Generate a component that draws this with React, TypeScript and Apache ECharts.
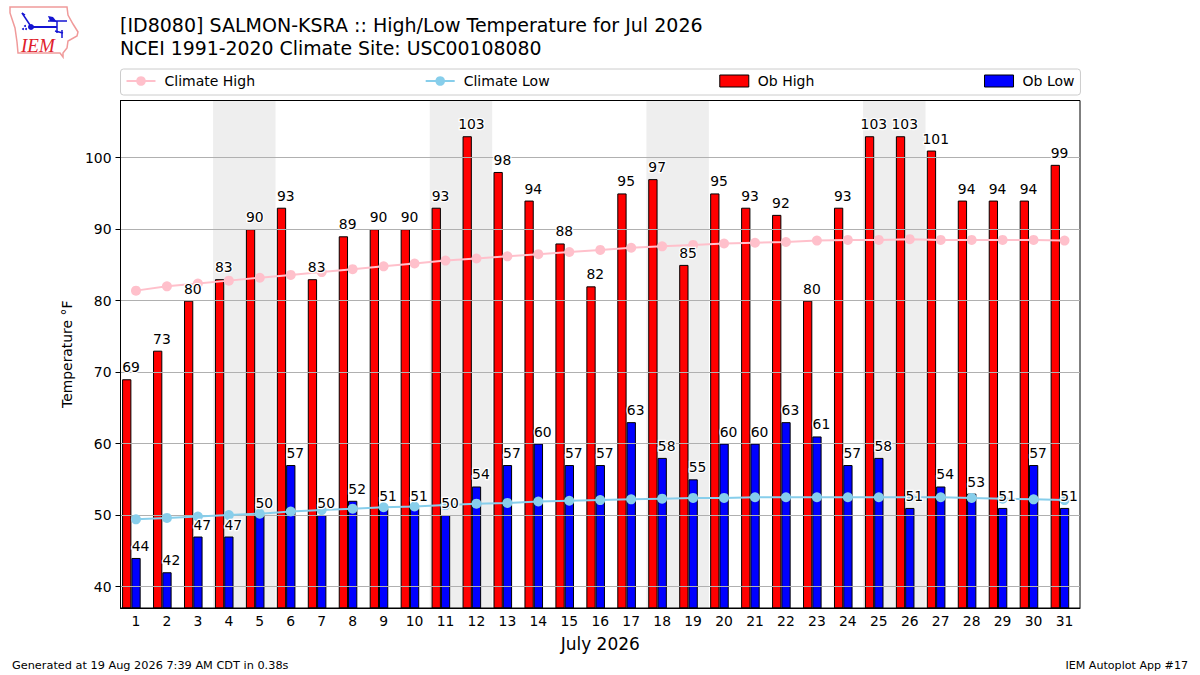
import React, { useEffect, useRef } from 'react';
import * as echarts from 'echarts';

const days = ['1','2','3','4','5','6','7','8','9','10','11','12','13','14','15','16','17','18','19','20','21','22','23','24','25','26','27','28','29','30','31'];
const obHigh = [69,73,80,83,90,93,83,89,90,90,93,103,98,94,88,82,95,97,85,95,93,92,80,93,103,103,101,94,94,94,99];
const obLow = [44,42,47,47,50,57,50,52,51,51,50,54,57,60,57,57,63,58,55,60,60,63,61,57,58,51,54,53,51,57,51];
const climateHigh = [81.4,82.0,82.4,82.8,83.2,83.6,84.0,84.4,84.8,85.2,85.6,85.9,86.2,86.5,86.8,87.1,87.4,87.6,87.8,88.0,88.1,88.2,88.4,88.5,88.5,88.6,88.5,88.5,88.5,88.5,88.4];
const climateLow = [49.4,49.6,49.8,50.0,50.2,50.5,50.7,50.9,51.1,51.2,51.4,51.6,51.7,51.9,52.0,52.1,52.2,52.3,52.4,52.4,52.5,52.5,52.5,52.5,52.5,52.5,52.5,52.4,52.3,52.2,52.1];
const weekendDays = ['4','5','11','12','18','19','25','26'];
const yTicks = [40,50,60,70,80,90,100];

const FONT = 'DejaVu Sans';
const Y_MIN = 37;
const Y_MAX = 108;
const LOGO_BLUE = '#1414d2';

// outline of the logo, page pixels
const logoOutline = [[10,7],[67,7],[68,15],[73,24],[78,32],[77,36],[68,41],[67,48],[63,53],[63,57],[60,53],[18,53],[17,42],[15,28],[10,13]];

const labelSeries = (name: string, values: number[], dx: number) => ({
  name,
  type: 'scatter' as const,
  symbolSize: 0,
  z: 6,
  silent: true,
  data: values,
  itemStyle: { opacity: 1 }, // scatter defaults to 0.8, which greys the labels
  label: {
    show: true,
    position: 'top' as const,
    distance: 5,
    offset: [dx, 0],
    fontFamily: FONT,
    fontSize: 13.9,
    color: '#000',
    opacity: 1,
    textBorderColor: '#fff',
    textBorderWidth: 2.5,
  },
});

const lineSeries = (name: string, values: number[], color: string) => ({
  name,
  type: 'line' as const,
  data: values,
  symbol: 'circle',
  symbolSize: 10,
  z: 4,
  lineStyle: { color, width: 2 },
  itemStyle: { color },
});

const logoLine = (x1: number, y1: number, x2: number, y2: number, lineWidth = 1.5) => ({
  type: 'line',
  shape: { x1, y1, x2, y2 },
  style: { stroke: LOGO_BLUE, lineWidth },
});

const logoDot = (cx: number, cy: number, r = 1) => ({
  type: 'circle',
  shape: { cx, cy, r },
  style: { fill: LOGO_BLUE },
});

const App: React.FC = () => {
  const chartRef = useRef<HTMLDivElement>(null);

  useEffect(() => {
    if (!chartRef.current) return;
    const chart = echarts.init(chartRef.current, undefined, { renderer: 'svg' });

    const option: any = {
      animation: false,
      backgroundColor: '#fff',
      textStyle: { fontFamily: FONT },
      title: [
        {
          text: '[ID8080] SALMON-KSRA :: High/Low Temperature for Jul 2026',
          left: 120,
          top: 13,
          padding: 0,
          textStyle: { fontFamily: FONT, fontSize: 19.03, fontWeight: 'normal', color: '#000', lineHeight: 23.5 },
        },
        {
          text: 'NCEI 1991-2020 Climate Site: USC00108080',
          left: 120,
          top: 36.5,
          padding: 0,
          textStyle: { fontFamily: FONT, fontSize: 18.87, fontWeight: 'normal', color: '#000', lineHeight: 23.5 },
        },
      ],
      legend: {
        left: 120.5,
        top: 69,
        padding: [5, 6, 7, 5],
        itemGap: 169.7,
        itemWidth: 29,
        itemHeight: 12,
        borderColor: '#ccc',
        borderWidth: 1,
        borderRadius: 3,
        backgroundColor: '#fff',
        data: [
          { name: 'Climate High' },
          { name: 'Climate Low' },
          { name: 'Ob High', icon: 'rect', itemStyle: { borderWidth: 1 } },
          { name: 'Ob Low', icon: 'rect', itemStyle: { borderWidth: 1 } },
        ],
        textStyle: { fontFamily: FONT, fontSize: 14, color: '#000', padding: [0, 0, 0, 4] },
      },
      grid: { left: 120.5, right: 120, top: 100.5, bottom: 67, show: true, borderColor: '#000', borderWidth: 1, z: 3, backgroundColor: 'transparent' },
      xAxis: [
        {
          type: 'category',
          data: days,
          name: 'July 2026',
          nameLocation: 'middle',
          nameGap: 27,
          nameTextStyle: { fontFamily: FONT, fontSize: 17, color: '#000' },
          axisLine: { lineStyle: { color: '#000', width: 1 } },
          axisTick: { alignWithLabel: true, length: 5, lineStyle: { color: '#000' } },
          axisLabel: { fontFamily: FONT, fontSize: 13.9, color: '#000', margin: 6, interval: 0 },
          splitLine: { show: false },
        },
        { type: 'category', data: days, show: false },
      ],
      yAxis: {
        type: 'value',
        min: Y_MIN,
        max: Y_MAX,
        z: 3,
        name: 'Temperature °F',
        nameLocation: 'middle',
        nameGap: 42,
        nameTextStyle: { fontFamily: FONT, fontSize: 13.9, color: '#000' },
        axisLine: { show: true, lineStyle: { color: '#000', width: 1 } },
        axisTick: { show: true, length: 5, lineStyle: { color: '#000' }, customValues: yTicks },
        axisLabel: { fontFamily: FONT, fontSize: 13.9, color: '#000', margin: 9, customValues: yTicks },
        splitLine: { show: true, lineStyle: { color: '#b0b0b0', width: 1.1 } },
      },
      series: [
        {
          name: 'Weekend',
          type: 'bar',
          xAxisIndex: 1,
          z: 0,
          silent: true,
          barWidth: 31.5,
          itemStyle: { color: '#eeeeee' },
          data: days.map((d) => (weekendDays.includes(d) ? Y_MAX : null)),
        },
        lineSeries('Climate High', climateHigh, '#ffc0cb'),
        lineSeries('Climate Low', climateLow, '#87ceeb'),
        {
          name: 'Ob High',
          type: 'bar',
          z: 2,
          barWidth: 9.29,
          barGap: 0,
          data: obHigh,
          itemStyle: { color: '#ff0000', borderColor: '#000', borderWidth: 1 },
        },
        {
          name: 'Ob Low',
          type: 'bar',
          z: 2,
          barWidth: 9.29,
          barGap: 0,
          data: obLow,
          itemStyle: { color: '#0000ff', borderColor: '#000', borderWidth: 1 },
        },
        // empty slot so the red/blue pair sits left of the tick like the original
        { name: 'spacer', type: 'bar', barWidth: 9.2, barGap: 0, data: [] },
        labelSeries('High labels', obHigh, -5),
        labelSeries('Low labels', obLow, 4.5),
      ],
      graphic: [
        {
          type: 'polygon',
          shape: { points: logoOutline },
          style: { fill: '#fff', stroke: '#f09a9a', lineWidth: 1.5 },
        },
        logoLine(31, 27, 57, 27, 2),
        logoDot(31, 27, 3),
        logoLine(22, 13, 30, 25),
        logoLine(22, 13, 25, 15),
        logoLine(48, 21, 67, 21),
        {
          type: 'polygon',
          shape: { points: [[48,16],[53,17],[57,22],[50,21]] },
          style: { fill: LOGO_BLUE },
        },
        logoLine(57, 21, 57, 33),
        logoLine(55, 31, 63, 33),
        logoLine(62, 30, 62, 38),
        logoDot(25, 26),
        logoDot(23, 29),
        logoDot(26, 29),
        {
          type: 'text',
          x: 21,
          y: 36,
          style: { text: 'IEM', fill: '#e0202a', fontFamily: 'Liberation Serif', fontStyle: 'italic', fontSize: 19 },
        },
        {
          type: 'text',
          x: 12,
          y: 660,
          style: { text: 'Generated at 19 Aug 2026 7:39 AM CDT in 0.38s', fill: '#000', fontFamily: FONT, fontSize: 11.3 },
        },
        {
          type: 'text',
          right: 12,
          y: 660,
          style: { text: 'IEM Autoplot App #17', fill: '#000', fontFamily: FONT, fontSize: 11.1 },
        },
      ],
    };

    chart.setOption(option);
    return () => chart.dispose();
  }, []);

  return <div ref={chartRef} style={{ position: 'absolute', left: 0, top: 0, width: 1200, height: 675 }} />;
};

export default App;
